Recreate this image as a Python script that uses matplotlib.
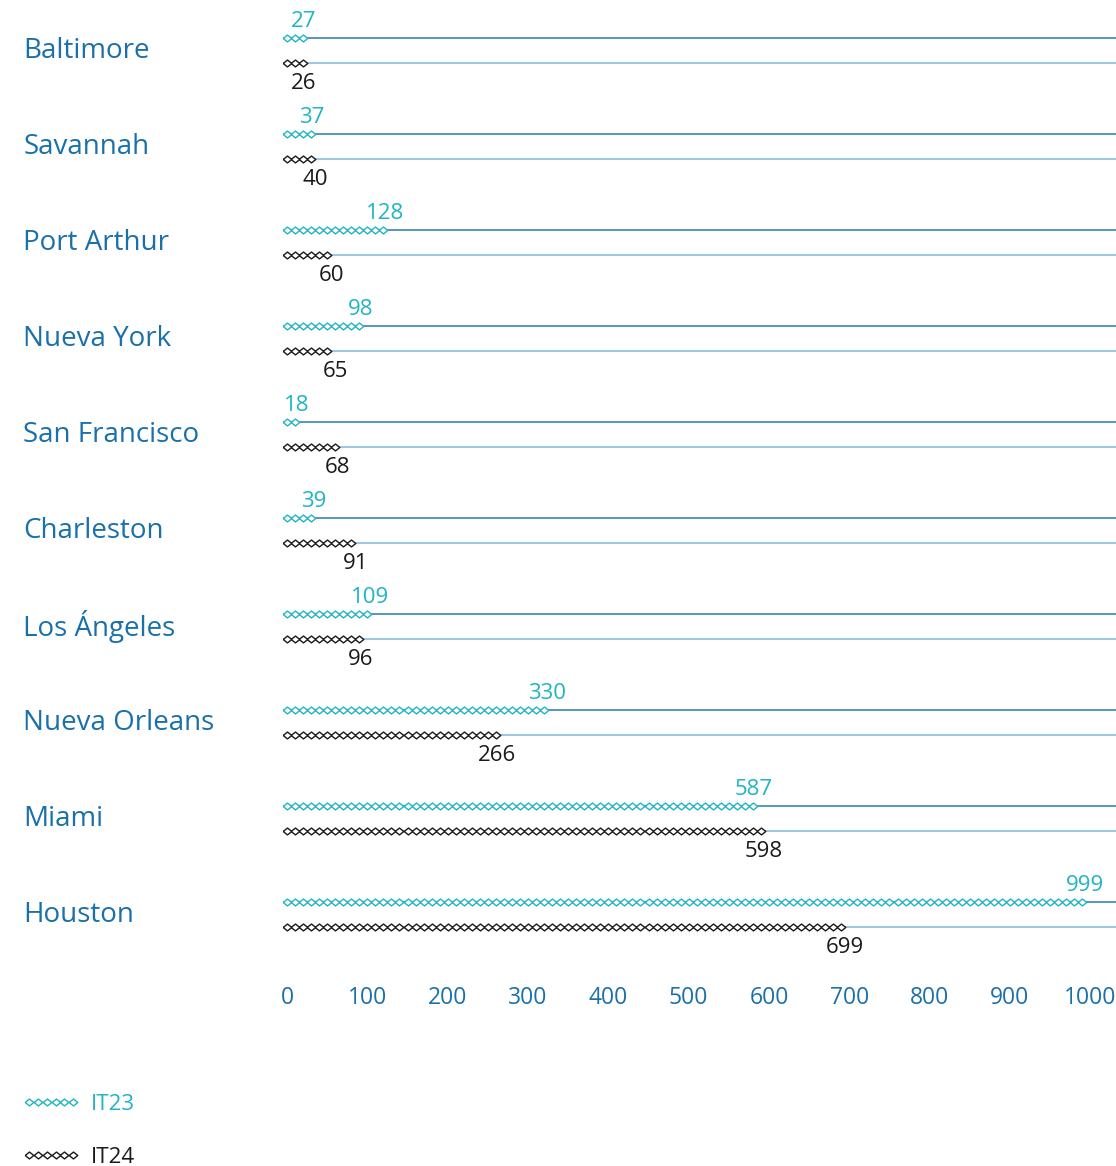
import matplotlib
matplotlib.use("Agg")
import matplotlib.pyplot as plt
import numpy as np
from matplotlib.lines import Line2D
from matplotlib.transforms import blended_transform_factory

plt.rcParams["font.family"] = ["Open Sans", "DejaVu Sans"]

ports = ["Baltimore", "Savannah", "Port Arthur", "Nueva York", "San Francisco",
         "Charleston", "Los Ángeles", "Nueva Orleans", "Miami", "Houston"]
it23 = [27, 37, 128, 98, 18, 39, 109, 330, 587, 999]
it24 = [26, 40, 60, 65, 68, 91, 96, 266, 598, 699]
xticks = [0, 100, 200, 300, 400, 500, 600, 700, 800, 900, 1000]

TEAL = "#1fb5c4"
BLACK = "#1a1a1a"
BLUE = "#1a70aa"
LINE_DARK = "#2a78b2"
LINE_LIGHT = "#7db6dc"
STEP = 10  # one diamond per 10 units

# flat diamond, a bit wider than tall
DIAMOND = [(-1, 0), (0, 0.8), (1, 0), (0, -0.8), (-1, 0)]
mk = dict(ls="none", marker=DIAMOND, ms=6.2, mfc="white", mew=1.0)

fig = plt.figure(figsize=(11.16, 11.66), dpi=100)
ax = fig.add_axes([0.2536, 0.1745, 0.7464, 0.8233])
ax.set_xlim(-5, 1032)
ax.set_ylim(9.5, -0.5)
off = 0.13

for i, (name, a, b) in enumerate(zip(ports, it23, it24)):
    ya, yb = i - off, i + off
    ax.axhline(ya, color=LINE_DARK, lw=1.1, zorder=1)
    ax.axhline(yb, color=LINE_LIGHT, lw=1.1, zorder=1)
    xa = np.arange(0, a - STEP / 2, STEP)
    xb = np.arange(0, b - STEP / 2, STEP)
    ax.plot(xa, np.full_like(xa, ya, dtype=float), mec=TEAL, zorder=3, **mk)
    ax.plot(xb, np.full_like(xb, yb, dtype=float), mec=BLACK, zorder=3, **mk)
    ax.text(a - 6, ya - 0.175, str(a), color=TEAL, fontsize=16,
            ha="center", va="center")
    ax.text(b - 5, yb + 0.21, str(b), color=BLACK, fontsize=16,
            ha="center", va="center")

trans = blended_transform_factory(fig.transFigure, ax.transData)
for i, name in enumerate(ports):
    ax.text(0.021, i, name, transform=trans, color=BLUE,
            fontsize=20, ha="left", va="center")

ax.set_xticks(xticks)
ax.set_xticklabels([str(t) for t in xticks])
ax.set_yticks([])
ax.tick_params(axis="x", length=0, pad=17, labelsize=16.5, labelcolor=BLUE)
for s in ax.spines.values():
    s.set_visible(False)

handles = [
    Line2D([], [], mec=TEAL, **mk),
    Line2D([], [], mec=BLACK, **mk),
]
leg = fig.legend(handles, ["IT23", "IT24"], loc="upper left",
                 bbox_to_anchor=(0.002, 0.079), frameon=False, numpoints=6,
                 handlelength=2.6, handletextpad=0.5, labelspacing=1.45,
                 fontsize=16)
for txt, c in zip(leg.get_texts(), [TEAL, BLACK]):
    txt.set_color(c)

fig.savefig("out.png", dpi=100)
